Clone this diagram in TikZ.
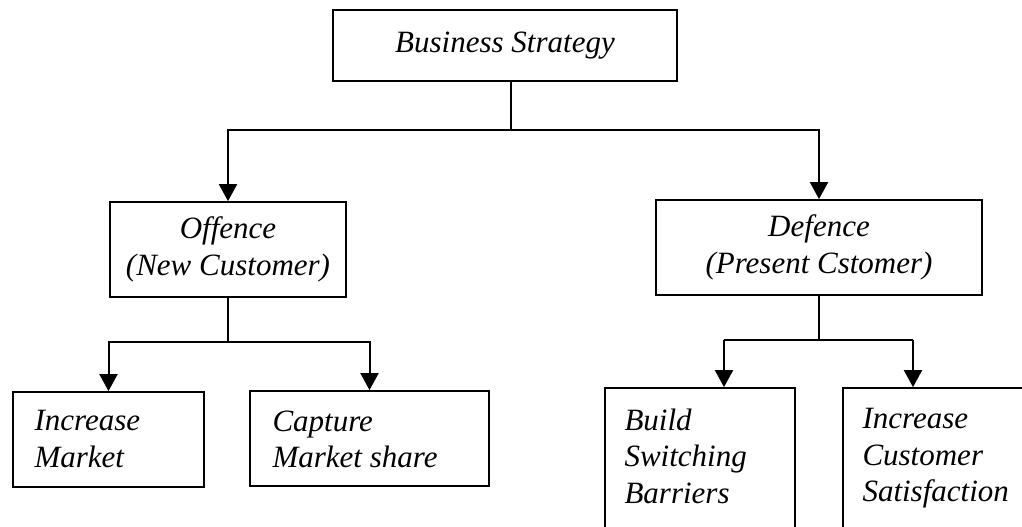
\documentclass[tikz,border=0pt]{standalone}
\usepackage{fontspec}
\setmainfont{Liberation Serif}
\usetikzlibrary{arrows.meta}
\begin{document}
\begin{tikzpicture}[x=0.5pt,y=-0.5pt,
  box/.style={draw,line width=0.9pt,inner sep=0pt},
  lbl/.style={font=\fontsize{15.5}{18.25}\selectfont\itshape,align=center},
  txt/.style={font=\fontsize{15.5}{18.25}\selectfont\itshape,align=left,inner sep=0pt,anchor=north west},
  link/.style={line width=1pt,line join=miter},
  arr/.style={link,-{Triangle[width=9pt,length=8.5pt]}}]
\clip (0,0) rectangle (1022,526);

% strategy boxes
\node[box,lbl,minimum width=172pt,minimum height=35.5pt] (bs) at (505,45.5) {Business Strategy};
\node[box,lbl,minimum width=118pt,minimum height=47.5pt] (off) at (228,249.5) {Offence\\(New Customer)};
\node[box,lbl,minimum width=163pt,minimum height=47.5pt] (def) at (819,247.5) {Defence\\(Present Cstomer)};

% action boxes
\node[box,minimum width=95.5pt,minimum height=47.5pt] (im) at (108.5,439.5) {};
\node[box,minimum width=119.5pt,minimum height=47.5pt] (cm) at (369.5,438.5) {};
\node[box,minimum width=95pt,minimum height=86pt] (bsb) at (700,474) {};
\node[box,minimum width=101pt,minimum height=86pt] (ics) at (944,474) {};

\node[txt] (imt) at ([xshift=11pt,yshift=-9.5pt]im.north west) {Increase\\Market};
\node[txt] (cmt) at ([xshift=11.5pt,yshift=-10pt]cm.north west) {Capture\\Market share};
\node[txt] (bsbt) at ([xshift=10pt,yshift=-10.5pt]bsb.north west) {Build\\Switching\\Barriers};
\node[txt] (icst) at ([xshift=10pt,yshift=-10.5pt]ics.north west) {Increase\\Customer\\Satisfaction};

% branch points
\coordinate (j1) at (511,130);
\coordinate (j2) at (228,342);
\coordinate (j3) at (819,340);
\coordinate (t1) at (724,340);
\coordinate (t2) at (913,340);

% connectors
\draw[link] (j1 |- bs.south) -- (j1);
\draw[arr] (j1) -| (off.north);
\draw[arr] (j1) -| (def.north);

\draw[link] (off.south) -- (j2);
\draw[arr] (j2) -| (im.north);
\draw[arr] (j2) -| (cm.north);

\draw[link] (def.south) -- (j3);
\draw[link] (t1) -- (t2);
\draw[arr] (t1) -- (t1 |- bsb.north);
\draw[arr] (t2) -- (t2 |- ics.north);
\end{tikzpicture}
\end{document}
